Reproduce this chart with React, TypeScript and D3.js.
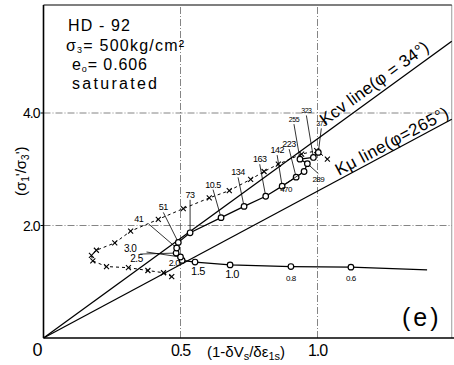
import React from "react";
import * as d3 from "d3";

// ---- data (x = 1 - δVs/δε1s, y = σ1'/σ3') ----
const circleX = [1.122, 0.903, 0.681, 0.553, 0.506, 0.5, 0.484, 0.486, 0.492, 0.535, 0.648, 0.732, 0.811, 0.871, 0.922, 0.951, 0.963, 0.936, 0.985, 1.003];
const circleY = [1.26, 1.27, 1.3, 1.35, 1.38, 1.44, 1.51, 1.6, 1.7, 1.87, 2.14, 2.34, 2.52, 2.7, 2.86, 2.96, 3.1, 3.18, 3.21, 3.3];
const circleLabels = ["0.6", "0.8", "1.0", "1.5", "2.0", "2.5", "3.0", "41", "51", "73", "10.5", "134", "163", "142", "223", "470", "289", "255", "323", "373"];
const tailX = [1.122, 1.4];
const tailY = [1.26, 1.21];

const crossX = [0.468, 0.438, 0.381, 0.31, 0.23, 0.18, 0.175, 0.193, 0.26, 0.318, 0.419, 0.51, 0.605, 0.678, 0.756, 0.805, 0.857, 0.942, 0.997, 1.036];
const crossY = [1.09, 1.16, 1.2, 1.25, 1.27, 1.37, 1.47, 1.56, 1.69, 1.9, 2.11, 2.3, 2.49, 2.62, 2.82, 2.96, 3.09, 3.27, 3.33, 3.18];

const kcv = 3.54; // tan^2(45+34/2)
const kmu = 2.61; // tan^2(45+26.5/2)
const xTicks = [0, 0.5, 1.0];
const xTickLabels = ["0", "0.5", "1.0"];
const yTicks = [2, 4];
const yTickLabels = ["2.0", "4.0"];
const xMax = 1.49;

// label placement (pixel offsets from point), leader lines
const labelOffsets: Record<string, [number, number, number, boolean]> = {
  // dx, dy, fontSize, leader
  "0.6": [0, 14, 8, false],
  "0.8": [0, 14, 8, false],
  "1.0": [2, 13, 11, false],
  "1.5": [3, 13, 11, false],
  "2.0": [-8, 6, 9, false],
  "2.5": [-44, 5, 10, true],
  "3.0": [-46, -1, 10, true],
  "41": [-38, -26, 9, true],
  "51": [-15, -32, 9, true],
  "73": [0, -35, 9, true],
  "10.5": [-8, -30, 9, true],
  "134": [-6, -31, 9, true],
  "163": [-6, -34, 9, true],
  "142": [-5, -33, 9, true],
  "223": [-7, -30, 9, true],
  "470": [-18, 20, 8, true],
  "289": [11, 18, 8, true],
  "255": [-6, -37, 7, true],
  "323": [-7, -44, 7, true],
  "373": [3, -26, 7, true],
};

export default function App() {
  const x = d3.scaleLinear().domain([0, 1]).range([43.5, 317.5]);
  const y = d3.scaleLinear().domain([0, 4]).range([338, 113]);
  const line = d3.line<[number, number]>().x((d) => x(d[0])).y((d) => y(d[1]));

  const circles: [number, number][] = circleX.map((v, i) => [v, circleY[i]]);
  const crosses: [number, number][] = crossX.map((v, i) => [v, crossY[i]]);
  const tail: [number, number][] = tailX.map((v, i) => [v, tailY[i]]);

  const top = 5;
  const right = x(xMax);
  const font = "'Liberation Sans', Arial, sans-serif";
  const grid = { stroke: "#666", strokeWidth: 0.8, strokeDasharray: "7,2,1,2" };

  const kcvAngle = (Math.atan2(y(0) - y(kcv), x(1) - x(0)) * 180) / Math.PI;
  const kmuAngle = (Math.atan2(y(0) - y(kmu), x(1) - x(0)) * 180) / Math.PI;

  return (
    <svg width={454} height={365} style={{ position: "absolute", left: 0, top: 0, background: "#fff" }} fontFamily={font}>
      {/* grid */}
      {yTicks.map((t) => (
        <line key={"gy" + t} x1={x(0)} x2={right} y1={y(t)} y2={y(t)} {...grid} />
      ))}
      {[0.5, 1.0].map((t) => (
        <line key={"gx" + t} x1={x(t)} x2={x(t)} y1={y(0)} y2={top} {...grid} />
      ))}
      {/* frame */}
      <line x1={x(0)} x2={x(0)} y1={y(0)} y2={top} stroke="#000" strokeWidth={1.6} />
      <line x1={x(0)} x2={454} y1={y(0)} y2={y(0)} stroke="#000" strokeWidth={1.6} />
      <line x1={x(0)} x2={right} y1={top} y2={top} stroke="#000" strokeWidth={1.2} />
      <line x1={right} x2={right} y1={top} y2={y(0)} stroke="#000" strokeWidth={0.8} strokeOpacity={0.5} />
      {yTicks.map((t, i) => (
        <g key={"yt" + t}>
          <line x1={x(0) - 3} x2={x(0)} y1={y(t)} y2={y(t)} stroke="#000" />
          <text x={x(0) - 4} y={y(t) + 5} fontSize={14} textAnchor="end" letterSpacing={-1}>{yTickLabels[i]}</text>
        </g>
      ))}
      {xTicks.map((t, i) => (
        <text key={"xt" + t} x={t === 0 ? 37 : x(t)} y={356} fontSize={t === 0 ? 18 : 16} textAnchor="middle" letterSpacing={-1}>{xTickLabels[i]}</text>
      ))}
      {/* axis titles */}
      <text x={207} y={357} fontSize={15}>
        (1-δV<tspan fontSize={11} dy={3}>s</tspan><tspan dy={-3}>/δε</tspan><tspan fontSize={11} dy={3}>1s</tspan><tspan dy={-3}>)</tspan>
      </text>
      <text transform="translate(26,196) rotate(-90)" fontSize={15}>
        (σ<tspan fontSize={10} dy={3}>1</tspan><tspan dy={-3}>'/σ</tspan><tspan fontSize={10} dy={3}>3</tspan><tspan dy={-3}>')</tspan>
      </text>
      {/* K lines */}
      <path d={line([[0, 0], [xMax, kcv * xMax]]) || ""} stroke="#000" strokeWidth={1.3} fill="none" />
      <path d={line([[0, 0], [xMax, kmu * xMax]]) || ""} stroke="#000" strokeWidth={1.3} fill="none" />
      <text transform={`translate(325,126) rotate(${-kcvAngle})`} fontSize={17} textLength={130}>Kcv line(φ = 34°)</text>
      <text transform={`translate(339,176) rotate(${-kmuAngle})`} fontSize={17} textLength={126}>Kμ line(φ=265°)</text>
      {/* crosses series */}
      <path d={line(crosses) || ""} stroke="#000" strokeWidth={1} strokeDasharray="3,3" fill="none" />
      {crosses.map((d, i) => (
        <g key={"c" + i} stroke="#000" strokeWidth={1.1}>
          <line x1={x(d[0]) - 2.5} x2={x(d[0]) + 2.5} y1={y(d[1]) - 2.5} y2={y(d[1]) + 2.5} />
          <line x1={x(d[0]) - 2.5} x2={x(d[0]) + 2.5} y1={y(d[1]) + 2.5} y2={y(d[1]) - 2.5} />
        </g>
      ))}
      {/* circles series */}
      <path d={line(tail) || ""} stroke="#000" strokeWidth={1.2} fill="none" />
      <path d={line(circles) || ""} stroke="#000" strokeWidth={1.2} fill="none" />
      {circles.map((d, i) => {
        const lab = circleLabels[i];
        const [dx, dy, fs, leader] = labelOffsets[lab];
        const px = x(d[0]);
        const py = y(d[1]);
        return (
          <g key={"o" + i}>
            {leader && <line x1={px + dx + (dx < -30 ? 10 : 0)} y1={py + dy + (dy < 0 ? 2 : -fs)} x2={px} y2={py} stroke="#000" strokeWidth={0.8} />}
            <circle cx={px} cy={py} r={2.8} fill="#fff" stroke="#000" strokeWidth={1.2} />
            <text x={px + dx} y={py + dy} fontSize={fs} textAnchor="middle" letterSpacing={-0.5}>{lab}</text>
          </g>
        );
      })}
      {/* info text */}
      <text x={68} y={31} fontSize={16} textLength={62}>HD - 92</text>
      <text x={66} y={51} fontSize={16} textLength={118} lengthAdjust="spacing">σ<tspan fontSize={9} dy={2}>3</tspan><tspan dy={-2}>= 500kg/cm²</tspan></text>
      <text x={72} y={70} fontSize={16} textLength={75} lengthAdjust="spacing">e<tspan fontSize={9} dy={2}>o</tspan><tspan dy={-2}>= 0.606</tspan></text>
      <text x={72} y={89} fontSize={16} textLength={85}>saturated</text>
      <text x={402} y={326} fontSize={25} letterSpacing={3}>(e)</text>
    </svg>
  );
}
